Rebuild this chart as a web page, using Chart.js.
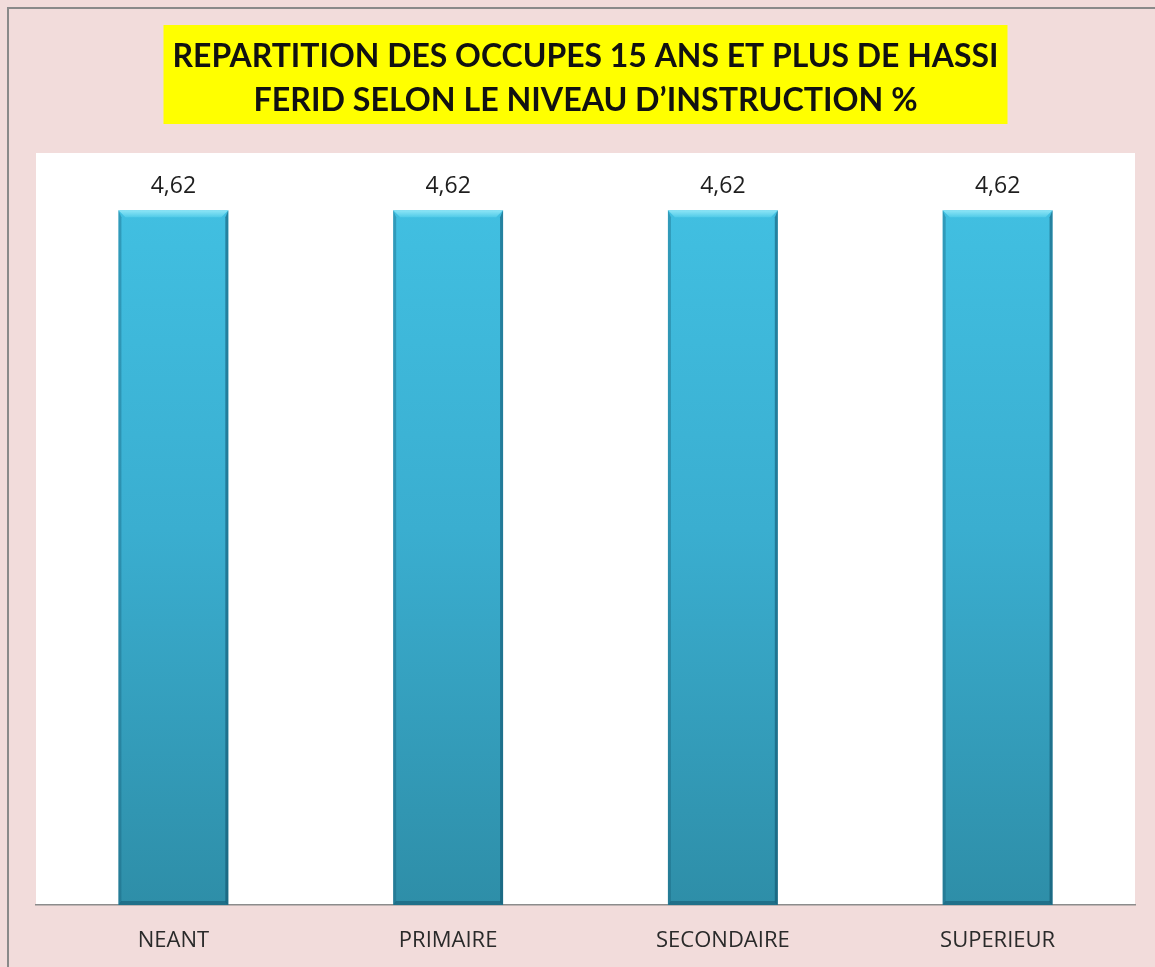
<!DOCTYPE html>
<html>
<head>
<meta charset="utf-8">
<script src="https://cdn.jsdelivr.net/npm/chart.js@4/dist/chart.umd.min.js"></script>
<style>
  html, body { margin: 0; padding: 0; background: #f2dcdb; }
  #wrap { position: relative; width: 1155px; height: 967px; }
</style>
</head>
<body>
<div id="wrap"><canvas id="chart" width="1155" height="967"></canvas></div>
<script>
// Niveau d'instruction des occupés de 15 ans et plus (%)
const categories = ['NEANT', 'PRIMAIRE', 'SECONDAIRE', 'SUPERIEUR'];
const values = [4.62, 4.62, 4.62, 4.62];
const titleLines = [
  'REPARTITION DES OCCUPES 15 ANS ET PLUS DE HASSI',
  'FERID SELON LE NIVEAU D\u2019INSTRUCTION %'
];
const axisMin = 0;
const axisMax = 5;

const fmt = v => v.toLocaleString('fr-FR', { minimumFractionDigits: 2, maximumFractionDigits: 2 });

// Pink frame, grey outline, white plot area and yellow title banner
const framePlugin = {
  id: 'frame',
  beforeDraw(chart) {
    const { ctx, chartArea: a, width, height } = chart;
    ctx.save();
    ctx.fillStyle = '#f2dcdb';
    ctx.fillRect(0, 0, width, height);
    ctx.strokeStyle = '#8a8a8a';
    ctx.lineWidth = 2;
    ctx.beginPath();
    ctx.moveTo(8, height);
    ctx.lineTo(8, 8);
    ctx.lineTo(width, 8);
    ctx.stroke();
    ctx.fillStyle = '#ffffff';
    ctx.fillRect(a.left, a.top, a.right - a.left, a.bottom - a.top);

    // title banner
    const cx = (a.left + a.right) / 2;
    ctx.fillStyle = '#ffff00';
    ctx.fillRect(cx - 422, 25, 844, 99);
    ctx.fillStyle = '#111111';
    ctx.font = 'bold 33px Lato, "Open Sans", sans-serif';
    ctx.textAlign = 'center';
    ctx.textBaseline = 'middle';
    const lineY = [56, 100];
    const widths = [826, 664];
    titleLines.forEach((t, i) => {
      const w = ctx.measureText(t).width;
      ctx.save();
      ctx.translate(cx, lineY[i]);
      ctx.scale(Math.min(1, widths[i] / w), 1);
      ctx.fillText(t, 0, 0);
      ctx.restore();
    });
    ctx.restore();
  }
};

// Bevelled edges on each bar, plus the value above it
const barDecor = {
  id: 'barDecor',
  afterDatasetsDraw(chart) {
    const { ctx } = chart;
    const meta = chart.getDatasetMeta(0);
    ctx.save();
    meta.data.forEach((bar, i) => {
      const half = bar.width / 2;
      const l = bar.x - half, r = bar.x + half, t = bar.y, b = bar.base;
      const e = 7;
      // top facet
      const gt = ctx.createLinearGradient(0, t, 0, t + e);
      gt.addColorStop(0, '#8fe6f7');
      gt.addColorStop(1, '#52cbe8');
      ctx.fillStyle = gt;
      ctx.beginPath();
      ctx.moveTo(l, t); ctx.lineTo(r, t); ctx.lineTo(r - e, t + e); ctx.lineTo(l + e, t + e);
      ctx.closePath(); ctx.fill();
      // left facet
      ctx.fillStyle = 'rgba(20,90,115,0.35)';
      ctx.beginPath();
      ctx.moveTo(l, t); ctx.lineTo(l + 3, t + e); ctx.lineTo(l + 3, b - 3); ctx.lineTo(l, b);
      ctx.closePath(); ctx.fill();
      // right facet
      ctx.fillStyle = 'rgba(10,70,95,0.5)';
      ctx.beginPath();
      ctx.moveTo(r, t); ctx.lineTo(r - 3, t + e); ctx.lineTo(r - 3, b - 3); ctx.lineTo(r, b);
      ctx.closePath(); ctx.fill();
      // bottom facet
      ctx.fillStyle = 'rgba(15,75,100,0.45)';
      ctx.beginPath();
      ctx.moveTo(l, b); ctx.lineTo(l + 3, b - 4); ctx.lineTo(r - 3, b - 4); ctx.lineTo(r, b);
      ctx.closePath(); ctx.fill();

      ctx.fillStyle = '#1e1e1e';
      ctx.font = '23px "Open Sans", sans-serif';
      ctx.textAlign = 'center';
      ctx.textBaseline = 'middle';
      ctx.fillText(fmt(values[i]), bar.x, bar.y - 24);
    });
    ctx.restore();
  }
};

const ctx = document.getElementById('chart').getContext('2d');
new Chart(ctx, {
  type: 'bar',
  data: {
    labels: categories,
    datasets: [{
      label: 'Niveau d\u2019instruction %',
      data: values,
      barPercentage: 0.4,
      categoryPercentage: 1,
      borderWidth: 0,
      backgroundColor(c) {
        const a = c.chart.chartArea;
        if (!a) return '#3fb8d8';
        const g = c.chart.ctx.createLinearGradient(0, a.top, 0, a.bottom);
        g.addColorStop(0, '#42c2e4');
        g.addColorStop(0.5, '#3aaed0');
        g.addColorStop(1, '#2e8ea8');
        return g;
      }
    }]
  },
  options: {
    responsive: false,
    animation: false,
    layout: { padding: { left: 36, right: 20, top: 153, bottom: 0 } },
    plugins: {
      legend: { display: false },
      title: { display: false },
      tooltip: { enabled: false }
    },
    scales: {
      x: {
        grid: { display: false },
        border: { display: true, color: '#8c8c8c', width: 1.5 },
        ticks: {
          color: '#2a2a2a',
          font: { family: '"Open Sans", sans-serif', size: 22 },
          padding: 15
        },
        afterFit(scale) { scale.height = 62; }
      },
      y: {
        display: false,
        min: axisMin,
        max: axisMax
      }
    }
  },
  plugins: [framePlugin, barDecor]
});
</script>
</body>
</html>
